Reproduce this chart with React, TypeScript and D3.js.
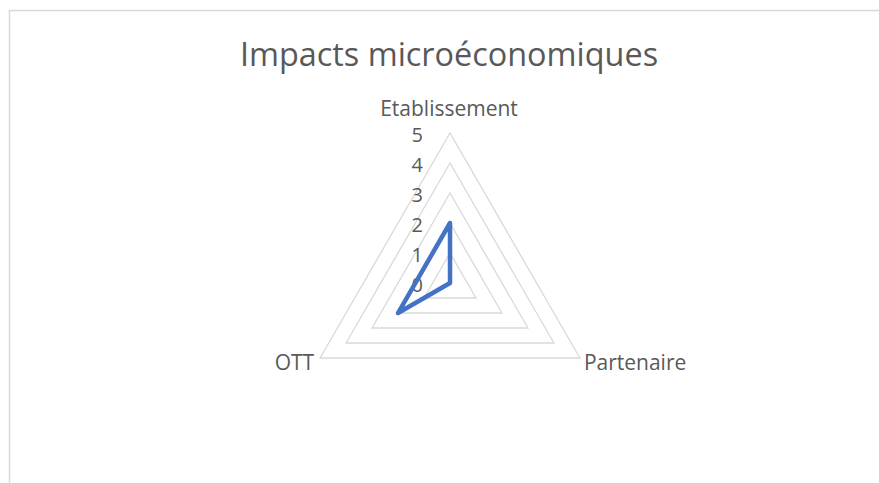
import React from "react";
import * as d3 from "d3";

const categories = ["Etablissement", "Partenaire", "OTT"];
const values = [2, 0, 2];
const tickValues = [0, 1, 2, 3, 4, 5];
const title = "Impacts microéconomiques";

const W = 879;
const H = 483;
const cx = 450;
const cy = 283;
const R = 150;
const FONT = "'Open Sans', sans-serif";

export default function App() {
  const r = d3.scaleLinear().domain([0, 5]).range([0, R]);
  const angle = d3
    .scalePoint<string>()
    .domain(categories)
    .range([0, (2 * Math.PI * (categories.length - 1)) / categories.length]);

  const pt = (cat: string, v: number): [number, number] => {
    const a = angle(cat)!;
    return [cx + r(v) * Math.sin(a), cy - r(v) * Math.cos(a)];
  };

  const line = d3.line<[number, number]>().curve(d3.curveLinearClosed);

  const gridLevels = tickValues.filter((t) => t > 0);
  const dataPts = categories.map((c, i) => pt(c, values[i]));

  const labelPos = (cat: string) => {
    const [x, y] = pt(cat, 5);
    const a = angle(cat)!;
    if (a === 0) return { x: x - 1, y: y - 17, anchor: "middle" };
    if (Math.sin(a) > 0) return { x: x + 4, y: y + 12, anchor: "start" };
    return { x: x - 6, y: y + 12, anchor: "end" };
  };

  return (
    <svg
      width={W}
      height={H}
      style={{ position: "absolute", left: 0, top: 0, background: "#fff" }}
    >
      <rect x={0} y={0} width={W} height={H} fill="#fff" />
      <line x1={9} y1={10.5} x2={W} y2={10.5} stroke="#d9d9d9" strokeWidth={1.5} />
      <line x1={9.5} y1={10} x2={9.5} y2={H} stroke="#d9d9d9" strokeWidth={1.5} />
      <text
        x={449}
        y={66}
        textAnchor="middle"
        fontFamily={FONT}
        fontSize={32.4}
        fill="#595959"
      >
        {title}
      </text>
      {gridLevels.map((t) => (
        <path
          key={t}
          d={line(categories.map((c) => pt(c, t)))!}
          fill="none"
          stroke="#d9d9d9"
          strokeWidth={1.3}
        />
      ))}
      {tickValues.map((t) => (
        <text
          key={t}
          x={cx - 27}
          y={cy - r(t) + 9}
          textAnchor="end"
          fontFamily={FONT}
          fontSize={20}
          fill="#595959"
        >
          {t}
        </text>
      ))}
      <path
        d={line(dataPts)!}
        fill="none"
        stroke="#4472c4"
        strokeWidth={4.5}
        strokeLinejoin="round"
      />
      {categories.map((c) => {
        const p = labelPos(c);
        return (
          <text
            key={c}
            x={p.x}
            y={p.y}
            textAnchor={p.anchor as any}
            fontFamily={FONT}
            fontSize={21}
            fill="#595959"
          >
            {c}
          </text>
        );
      })}
    </svg>
  );
}
